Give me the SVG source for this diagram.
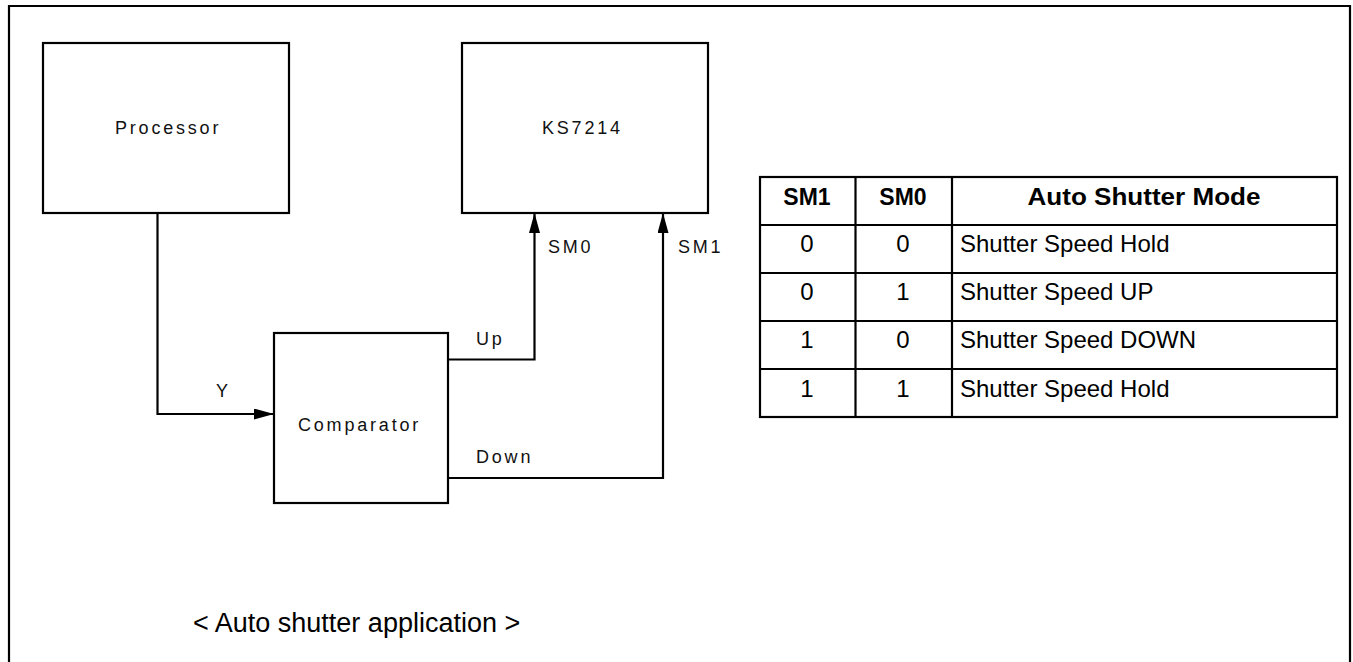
<svg xmlns="http://www.w3.org/2000/svg" width="1353" height="662" viewBox="0 0 1353 662">
<style>
.box{fill:#fff;stroke:#000;stroke-width:2.2}
.ln{fill:none;stroke:#000;stroke-width:2.2}
.lbl{font-family:"Liberation Sans",Arial,sans-serif;font-size:18px;letter-spacing:2.8px;fill:#111}
.tb{font-family:"Liberation Sans",Arial,sans-serif;font-size:24px;fill:#000}
.th{font-family:"Liberation Sans",Arial,sans-serif;font-size:23px;font-weight:bold;fill:#000;text-anchor:middle}
.tc{text-anchor:middle}
.cap{font-family:"Liberation Sans",Arial,sans-serif;font-size:27px;fill:#000}
</style>
<defs>
<marker id="ah" markerWidth="20" markerHeight="11" refX="20" refY="5.5" orient="auto" markerUnits="userSpaceOnUse">
<path d="M0,0 L20,5.5 L0,11 Z" fill="#000"/>
</marker>
</defs>
<rect width="1353" height="662" fill="#fff"/>
<path class="ln" d="M9,664 V6 H1350 V664" stroke-width="2.5"/>

<g id="processor">
<rect class="box" x="43" y="43" width="246" height="170"/>
<text class="lbl" x="115" y="134">Processor</text>
</g>
<g id="ks7214">
<rect class="box" x="462" y="43" width="246" height="170"/>
<text class="lbl" x="542" y="134">KS7214</text>
</g>
<g id="comparator">
<rect class="box" x="274" y="333" width="174" height="170"/>
<text class="lbl" x="298" y="431">Comparator</text>
</g>

<g id="connectors">
<path class="ln" d="M157.5,213 V414 H274" marker-end="url(#ah)"/>
<path class="ln" d="M448,359.5 H534.5 V213" marker-end="url(#ah)"/>
<path class="ln" d="M448,478 H663 V213" marker-end="url(#ah)"/>
<text class="lbl" x="216" y="397">Y</text>
<text class="lbl" x="476" y="345">Up</text>
<text class="lbl" x="476" y="463">Down</text>
<text class="lbl" x="548" y="253">SM0</text>
<text class="lbl" x="678" y="253">SM1</text>
</g>

<g id="table">
<rect class="ln" x="760" y="177" width="577" height="240"/>
<path class="ln" d="M760,225 H1337 M760,273 H1337 M760,321 H1337 M760,369 H1337 M855.5,177 V417 M952,177 V417"/>
<text class="th" x="807" y="205">SM1</text>
<text class="th" x="903" y="205">SM0</text>
<text class="th" x="1144" y="205" textLength="233" lengthAdjust="spacingAndGlyphs">Auto Shutter Mode</text>
<text class="tb tc" x="807" y="252">0</text>
<text class="tb tc" x="903" y="252">0</text>
<text class="tb" x="960" y="252">Shutter Speed Hold</text>
<text class="tb tc" x="807" y="300">0</text>
<text class="tb tc" x="903" y="300">1</text>
<text class="tb" x="960" y="300">Shutter Speed UP</text>
<text class="tb tc" x="807" y="348">1</text>
<text class="tb tc" x="903" y="348">0</text>
<text class="tb" x="960" y="348">Shutter Speed DOWN</text>
<text class="tb tc" x="807" y="397">1</text>
<text class="tb tc" x="903" y="397">1</text>
<text class="tb" x="960" y="397">Shutter Speed Hold</text>
</g>

<text class="cap" x="193" y="632">&lt; Auto shutter application &gt;</text>
</svg>
